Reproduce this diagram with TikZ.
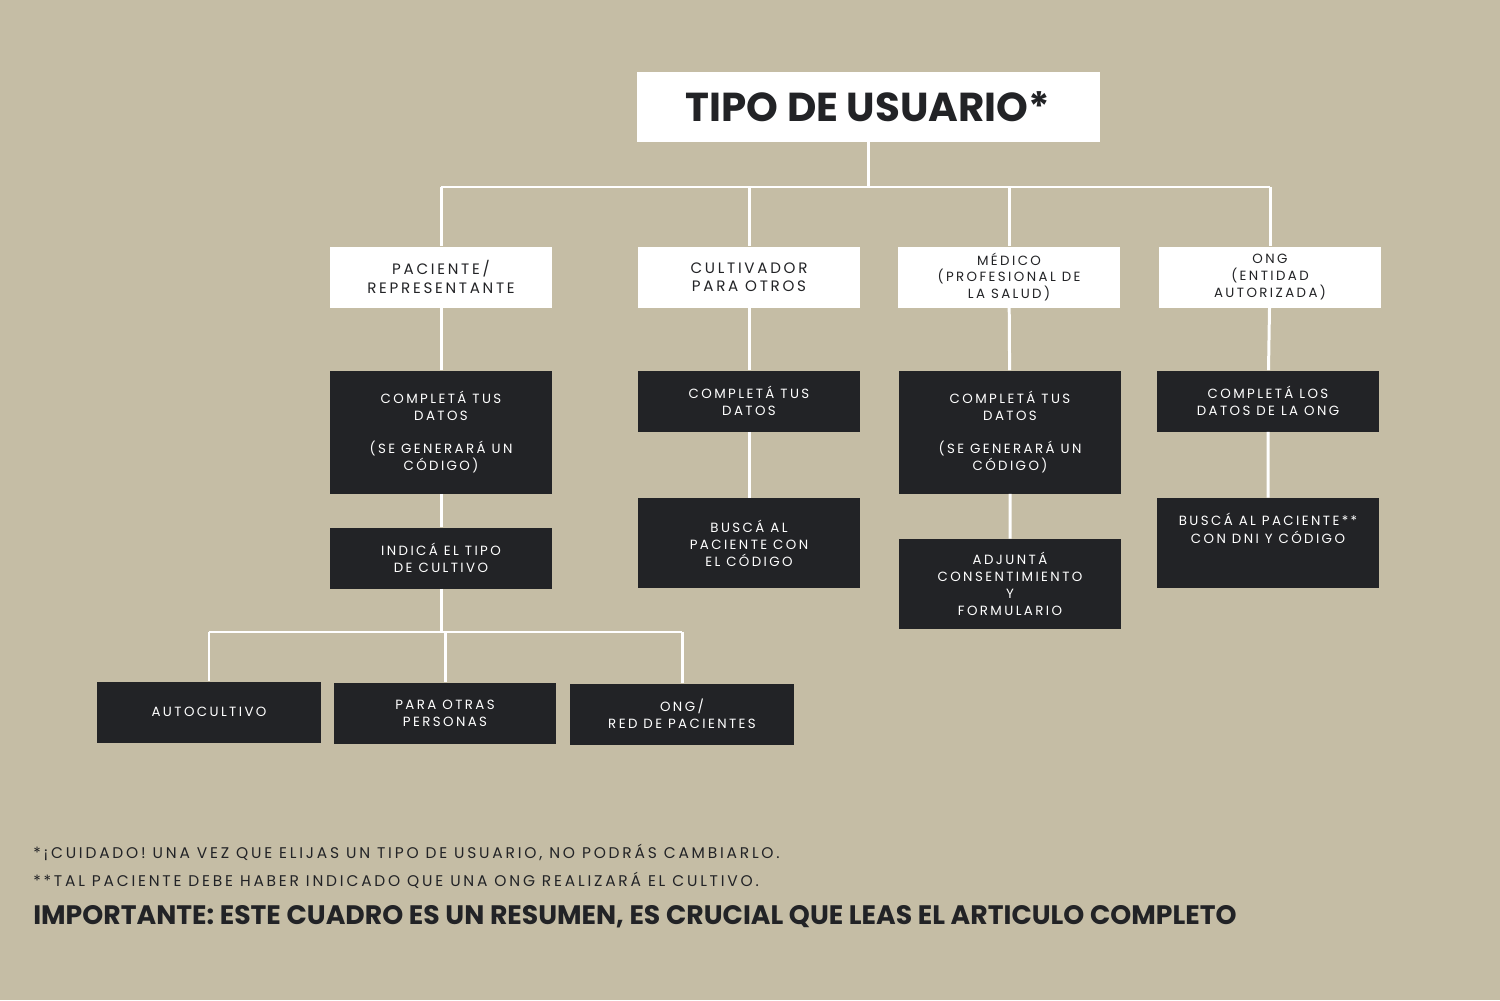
\documentclass[tikz,border=0pt]{standalone}
\usepackage{fontspec}
\setmainfont{Poppins}
\newfontfamily\spaced[LetterSpace=18]{Poppins}
\usetikzlibrary{positioning}
\definecolor{sand}{HTML}{C5BDA5}
\definecolor{ink}{HTML}{222326}
\begin{document}
\begin{tikzpicture}[x=0.02cm,y=-0.02cm,
  lightbox/.style={fill=white,minimum width=222*0.02cm,minimum height=61*0.02cm,inner sep=0pt,align=center,text=ink,font=\spaced\fontsize{8.6}{10.4}\selectfont},
  darkbox/.style={fill=ink,minimum width=222*0.02cm,minimum height=61*0.02cm,inner sep=0pt,align=center,text=white,font=\spaced\fontsize{7.6}{9.6}\selectfont},
  link/.style={draw=white,line width=1.7pt}]
\fill[sand] (0,0) rectangle (1500,1000);
\useasboundingbox (0,0) rectangle (1500,1000);
% title
\node[fill=white,minimum width=463*0.02cm,minimum height=70*0.02cm,text=ink,font=\bfseries\fontsize{23}{26}\selectfont] (title) at (868,107) {TIPO DE USUARIO*};
% user types
\node[lightbox] (pac) at (441,277) {PACIENTE/\\REPRESENTANTE};
\node[lightbox] (cul) at (749,277) {CULTIVADOR\\PARA OTROS};
\node[lightbox,font=\spaced\fontsize{7.6}{9.6}\selectfont] (med) at (1009,277) {MÉDICO\\(PROFESIONAL DE\\LA SALUD)};
\node[lightbox,font=\spaced\fontsize{7.6}{9.6}\selectfont] (ong) at (1270,277) {ONG\\(ENTIDAD\\AUTORIZADA)};
% steps
\node[darkbox,minimum height=123*0.02cm] (pacdatos) at (441,432) {COMPLETÁ TUS\\DATOS\\[1.2em](SE GENERARÁ UN\\CÓDIGO)};
\node[darkbox] (pactipo) at (441,558) {INDICÁ EL TIPO\\DE CULTIVO};
\node[darkbox] (culdatos) at (749,401) {COMPLETÁ TUS\\DATOS};
\node[darkbox,minimum height=90*0.02cm] (culbusca) at (749,543) {BUSCÁ AL\\PACIENTE CON\\EL CÓDIGO};
\node[darkbox,minimum height=123*0.02cm] (meddatos) at (1010,432) {COMPLETÁ TUS\\DATOS\\[1.2em](SE GENERARÁ UN\\CÓDIGO)};
\node[darkbox,minimum height=90*0.02cm] (medadj) at (1010,584) {ADJUNTÁ\\CONSENTIMIENTO\\Y\\FORMULARIO};
\node[darkbox] (ongdatos) at (1268,401) {COMPLETÁ LOS\\DATOS DE LA ONG};
\node[darkbox,minimum height=90*0.02cm] (ongbusca) at (1268,543) {\raisebox{2.2em}{\shortstack{BUSCÁ AL PACIENTE**\\CON DNI Y CÓDIGO}}};
% cultivation kinds
\node[darkbox,minimum width=224*0.02cm] (auto) at (209,712) {AUTOCULTIVO};
\node[darkbox] (otras) at (445,713) {PARA OTRAS\\PERSONAS};
\node[darkbox,minimum width=224*0.02cm] (red) at (682,714) {ONG/\\RED DE PACIENTES};
% connectors
\coordinate (bar) at (0,187);
\coordinate (lowbar) at (0,632);
\draw[link] (title.south) -- (title.south|-bar);
\draw[link] (pac.north|-bar) -- (ong.north|-bar);
\foreach \n in {pac,cul,med,ong} \draw[link] (\n.north|-bar) -- (\n.north);
\draw[link] (pac) -- (pacdatos) (pacdatos) -- (pactipo);
\draw[link] (cul) -- (culdatos) (culdatos) -- (culbusca);
\draw[link] (med) -- (meddatos) (meddatos) -- (medadj);
\draw[link] (ong) -- (ongdatos) (ongdatos) -- (ongbusca);
\draw[link] (pactipo.south) -- (pactipo.south|-lowbar);
\draw[link] (auto.north|-lowbar) -- (red.north|-lowbar);
\foreach \n in {auto,otras,red} \draw[link] (\n.north|-lowbar) -- (\n.north);
% notes
\node[anchor=west,inner sep=0pt,text=ink,font=\spaced\fontsize{8.8}{10}\selectfont] (nota1) at (33,852) {*¡CUIDADO! UNA VEZ QUE ELIJAS UN TIPO DE USUARIO, NO PODRÁS CAMBIARLO.};
\node[anchor=west,inner sep=0pt,text=ink,font=\spaced\fontsize{8.8}{10}\selectfont] (nota2) at (33,880) {**TAL PACIENTE DEBE HABER INDICADO QUE UNA ONG REALIZARÁ EL CULTIVO.};
\node[anchor=west,inner sep=0pt,text=ink,font=\bfseries\fontsize{15.2}{17}\selectfont] (aviso) at (33,917) {IMPORTANTE: ESTE CUADRO ES UN RESUMEN, ES CRUCIAL QUE LEAS EL ARTICULO COMPLETO};
\end{tikzpicture}
\end{document}
